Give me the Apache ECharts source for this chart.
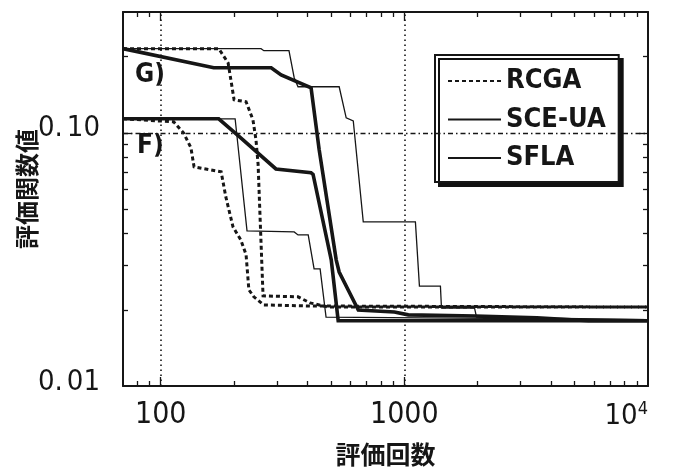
<!DOCTYPE html>
<html><head><meta charset="utf-8">
<script src="https://cdn.jsdelivr.net/npm/echarts@6/dist/echarts.min.js"></script>
<style>html,body{margin:0;padding:0;background:#fff}#c{width:678px;height:469px}</style>
</head><body><div id="c"></div>
<script>
// ---- data (evaluations, objective value) ----
const rcgaG = [[70,0.215],[173,0.215],[189,0.189],[194,0.162],[200,0.135],[224,0.1326],[239,0.1126],[246,0.0938],[251,0.075],[256,0.045],[263,0.0227],[366,0.0225],[410,0.0213],[487,0.0205],[10000,0.0205]];
const rcgaF = [[70,0.1136],[113,0.1105],[124,0.1],[133,0.0873],[137,0.0734],[177,0.0701],[185,0.0558],[198,0.0425],[213,0.0378],[224,0.033],[230,0.024],[241,0.0225],[265,0.0209],[414,0.0207],[10000,0.0205]];
const sceG = [[70,0.215],[165,0.1807],[284,0.1807],[312,0.1694],[414,0.1506],[447,0.0857],[525,0.0315],[540,0.0282],[647,0.01997],[910,0.0196],[1038,0.0191],[1960,0.0189],[3500,0.0186],[5700,0.0181],[10000,0.0181]];
const sceF = [[70,0.1136],[173,0.1136],[213,0.0955],[297,0.072],[414,0.0695],[422,0.0685],[501,0.0315],[535,0.0181],[10000,0.0181]];
const sflaG = [[70,0.215],[258,0.215],[265,0.211],[336,0.211],[353,0.165],[366,0.152],[540,0.152],[577,0.1146],[617,0.1115],[678,0.0445],[1110,0.0445],[1153,0.0248],[1406,0.0248],[1420,0.0203],[1941,0.0203],[1978,0.0187],[10000,0.0183]];
const sflaF = [[70,0.1136],[202,0.1136],[226,0.041],[353,0.0406],[366,0.0395],[403,0.0395],[426,0.029],[451,0.029],[477,0.0187],[10000,0.0183]];

const legendNames = ['RCGA','SCE-UA','SFLA'];
const xLabelValues = [100, 1000, 10000];
const xMajorTicks = [100, 1000];
const xMinorTicks = [80,90,200,300,400,500,600,700,800,900,2000,3000,4000,5000,6000,7000,8000,9000];
const yLabelValues = [0.01, 0.1];
const yLabelParts = [['0.','01'],['0.','10']];   // shown as "0. 01", "0. 10"
const yMajorTicks = [0.1];
const yMinorTicks = [0.02,0.03,0.04,0.05,0.06,0.07,0.08,0.09,0.2];
const xGridValues = [100, 1000];
const yGridValues = [0.1];
const curveLabels = ['G)','F)'];

const X_MIN = 70, X_MAX = 10000, Y_MIN = 0.01, Y_MAX = 0.3;
const narrow = "'Liberation Sans Narrow','DejaVu Sans Condensed',sans-serif";
const cjk = "'Noto Sans CJK JP','Noto Sans CJK SC',sans-serif";
const ink = '#161616';

function near(a,b){return Math.abs(Math.log10(a)-Math.log10(b))<1e-6;}

function xAxisDef(pos, ticks, len, showLabel, showLine){
  return {type:'log', logBase:10, min:X_MIN, max:X_MAX, position:pos,
    axisLine:{show:showLine, onZero:false, lineStyle:{color:ink,width:2}},
    axisTick:{show:true, inside:true, length:len, customValues:ticks, lineStyle:{color:ink,width:1.3}},
    axisLabel:{show:showLabel, customValues:xLabelValues, margin:14, color:ink,
      fontFamily:narrow, fontSize:30, alignMaxLabel:'right',
      formatter:function(v){ if(near(v,10000)) return '{a|10}{b|4}'; return near(v,1000)?'1000':'100'; },
      rich:{a:{fontFamily:narrow,fontSize:29,color:ink},b:{fontFamily:narrow,fontSize:18,color:ink,verticalAlign:'top',padding:[0,0,14,0]}}},
    splitLine:{show:false}, minorTick:{show:false}};
}
function yAxisDef(pos, ticks, len, showLabel, showLine){
  return {type:'log', logBase:10, min:Y_MIN, max:Y_MAX, position:pos,
    axisLine:{show:showLine, onZero:false, lineStyle:{color:ink,width:2}},
    axisTick:{show:true, inside:true, length:len, customValues:ticks, lineStyle:{color:ink,width:1.3}},
    axisLabel:{show:showLabel, customValues:yLabelValues, margin:23, color:ink,
      fontFamily:narrow, fontSize:29, padding:[0,0,8,0],
      formatter:function(v){ const p = near(v,0.01)?yLabelParts[0]:yLabelParts[1]; return '{d|'+p[0]+'}{s| }{d|'+p[1]+'}'; },
      rich:{d:{fontFamily:narrow,fontSize:29,color:ink},s:{fontFamily:narrow,fontSize:14,color:ink}}},
    splitLine:{show:false}, minorTick:{show:false}};
}

const xAxes = [
  Object.assign(xAxisDef('bottom', xMajorTicks, 9, true, true), {name:'評価回数', nameLocation:'middle', nameGap:56,
     nameMoveOverlap:false,
     nameTextStyle:{fontFamily:cjk, fontWeight:'bold', fontSize:25, color:ink}}),
  xAxisDef('bottom', xMinorTicks, 5, false, false),
  xAxisDef('top', xMajorTicks, 9, false, true),
  xAxisDef('top', xMinorTicks, 5, false, false)
];
const yAxes = [
  Object.assign(yAxisDef('left', yMajorTicks, 9, true, true), {name:'評価関数値', nameLocation:'middle', nameGap:84, nameRotate:90,
     nameMoveOverlap:false,
     nameTextStyle:{fontFamily:cjk, fontWeight:'bold', fontSize:24, color:ink, padding:[0,0,0,20]}}),
  yAxisDef('left', yMinorTicks, 5, false, false),
  yAxisDef('right', yMajorTicks, 9, false, true),
  yAxisDef('right', yMinorTicks, 5, false, false)
];

function lineSeries(name, data, style){
  return {name:name, type:'line', data:data, xAxisIndex:0, yAxisIndex:0, symbol:'none', showSymbol:false,
    animation:false, silent:true, itemStyle:{color:ink},
    lineStyle:Object.assign({color:ink, cap:'butt', join:'miter'}, style), z:3};
}
const dashStyle = {width:3, type:[4,3]};
const thickStyle = {width:3.6};
const thinStyle = {width:1.3};

const gridSeries = {name:'grid', type:'line', data:[], xAxisIndex:0, yAxisIndex:0, silent:true, animation:false,
  markLine:{symbol:'none', silent:true, animation:false, label:{show:false},
    data:[].concat(
      xGridValues.map(v=>({xAxis:v, lineStyle:{color:ink, width:1.6, type:[1.6,3.4]}})),
      yGridValues.map(v=>({yAxis:v, lineStyle:{color:ink, width:1.3, type:[5,3,1.5,3]}}))
    )}, z:1};

const chart = echarts.init(document.getElementById('c'), null, {renderer:'canvas'});
chart.setOption({
  backgroundColor:'#ffffff',
  animation:false,
  grid:{left:123, right:30, top:12, bottom:83, containLabel:false, outerBoundsMode:'none'},
  xAxis:xAxes,
  yAxis:yAxes,
  legend:{data:legendNames, orient:'vertical', left:435, top:55,
    padding:[12,13,10,12], itemGap:10.5, itemWidth:53, itemHeight:14,
    backgroundColor:'#fff', borderColor:ink, borderWidth:2,
    shadowColor:'#111', shadowBlur:0, shadowOffsetX:4, shadowOffsetY:4,
    itemStyle:{opacity:0},
    textStyle:{fontFamily:narrow, fontSize:27, fontWeight:'bold', color:ink, lineHeight:28},
    selectedMode:false},
  graphic:[
    {type:'text', left:135, top:62, style:{text:curveLabels[0], font:"bold 26px "+narrow, fill:ink}},
    {type:'text', left:137, top:133, style:{text:curveLabels[1], font:"bold 26px "+narrow, fill:ink}}
  ],
  series:[
    gridSeries,
    lineSeries('RCGA', rcgaG, dashStyle),
    lineSeries('RCGA', rcgaF, dashStyle),
    lineSeries('SCE-UA', sceG, thickStyle),
    lineSeries('SCE-UA', sceF, thickStyle),
    lineSeries('SFLA', sflaG, thinStyle),
    lineSeries('SFLA', sflaF, thinStyle)
  ]
});
</script></body></html>
